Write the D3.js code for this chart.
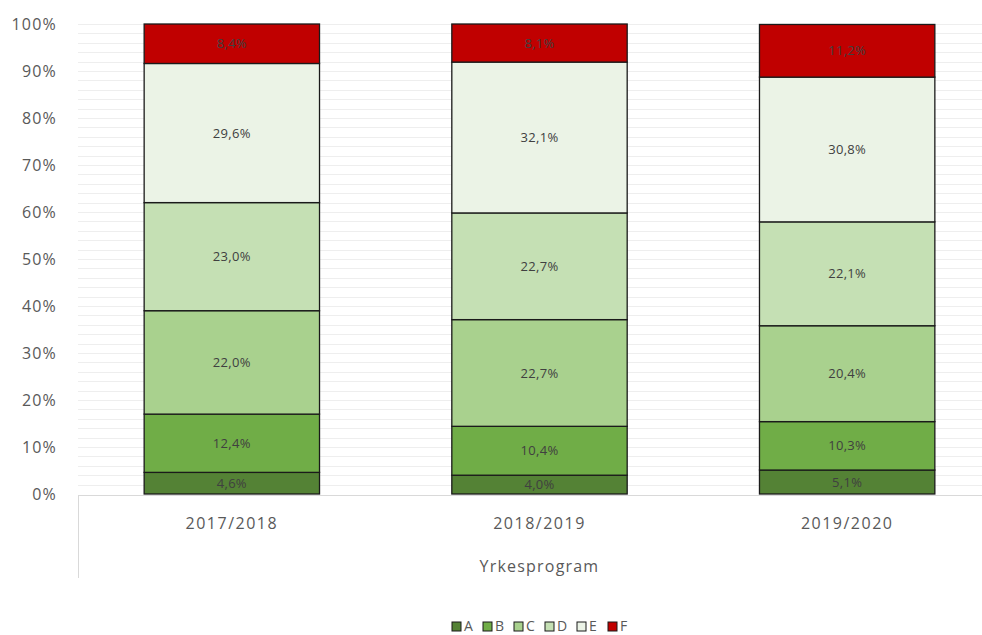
<!DOCTYPE html>
<meta charset="utf-8">
<script src="https://d3js.org/d3.v7.min.js"></script>
<style>
  body { margin: 0; background: #fff; }
  text { font-family: "Open Sans", "Noto Sans", sans-serif; }
</style>
<div id="chart"></div>
<script>

// data
var years = ["2017/2018", "2018/2019", "2019/2020"];
var grades = ["A", "B", "C", "D", "E", "F"];
var valA = [4.6, 4.0, 5.1];
var valB = [12.4, 10.4, 10.3];
var valC = [22.0, 22.7, 20.4];
var valD = [23.0, 22.7, 22.1];
var valE = [29.6, 32.1, 30.8];
var valF = [8.4, 8.1, 11.2];
var yTicks = [0, 10, 20, 30, 40, 50, 60, 70, 80, 90, 100];
var axisTitle = "Yrkesprogram";

var colors = ["#548235", "#70ad47", "#a9d18e", "#c5e0b4", "#ebf3e6", "#c00000"];
var series = [valA, valB, valC, valD, valE, valF];

var W = 982, H = 635;
var svg = d3.select("#chart").append("svg")
  .attr("width", W)
  .attr("height", H);

var x = d3.scaleBand()
  .domain(years)
  .range([78, 1001])
  .paddingInner(0.43)
  .paddingOuter(0.215);

var y = d3.scaleLinear()
  .domain([0, 100])
  .range([494, 24]);

// gridlines (minor every 2%)
svg.append("g")
  .selectAll("line")
  .data(d3.range(2, 101, 2))
  .enter()
  .append("line")
    .attr("x1", 78)
    .attr("x2", W)
    .attr("y1", function(d){ return Math.round(y(d)) + 0.5; })
    .attr("y2", function(d){ return Math.round(y(d)) + 0.5; })
    .attr("stroke", "#eeeeee")
    .attr("stroke-width", 1);

// y axis labels
svg.append("g")
  .selectAll("text")
  .data(yTicks)
  .enter()
  .append("text")
    .attr("x", 57)
    .attr("y", function(d){ return y(d); })
    .attr("dy", "0.35em")
    .attr("text-anchor", "end")
    .attr("font-size", 16)
    .attr("letter-spacing", 1.2)
    .attr("fill", "#595959")
    .text(function(d){ return d + "%"; });

// stack data
var rows = years.map(function(yr, i) {
  var r = {year: yr};
  grades.forEach(function(g, k){ r[g] = series[k][i]; });
  return r;
});
var stacked = d3.stack().keys(grades)(rows);

var layers = svg.append("g")
  .selectAll("g")
  .data(stacked)
  .enter()
  .append("g")
    .attr("fill", function(d, i){ return colors[i]; });

layers.selectAll("rect")
  .data(function(d){ return d; })
  .enter()
  .append("rect")
    .attr("x", function(d){ return x(d.data.year); })
    .attr("width", x.bandwidth())
    .attr("y", function(d){ return y(d[1]); })
    .attr("height", function(d){ return y(d[0]) - y(d[1]); })
    .attr("stroke", "#1a1a1a")
    .attr("stroke-width", 1.3);

layers.selectAll("text")
  .data(function(d){ var key = d.key; return d.map(function(p){ return {p: p, v: p.data[key]}; }); })
  .enter()
  .append("text")
    .attr("x", function(d){ return x(d.p.data.year) + x.bandwidth() / 2; })
    .attr("y", function(d){ return y((d.p[0] + d.p[1]) / 2); })
    .attr("dy", "0.35em")
    .attr("text-anchor", "middle")
    .attr("font-size", 13)
    .attr("letter-spacing", 0.3)
    .attr("fill", "#404040")
    .text(function(d){ return d.v.toFixed(1).replace(".", ",") + "%"; });

// category axis
svg.append("line")
  .attr("x1", 78).attr("x2", W)
  .attr("y1", 495.5).attr("y2", 495.5)
  .attr("stroke", "#d9d9d9");
svg.append("line")
  .attr("x1", 78.5).attr("x2", 78.5)
  .attr("y1", 495).attr("y2", 578)
  .attr("stroke", "#d9d9d9");

svg.append("g")
  .selectAll("text")
  .data(years)
  .enter()
  .append("text")
    .attr("x", function(d){ return x(d) + x.bandwidth() / 2; })
    .attr("y", 523)
    .attr("dy", "0.35em")
    .attr("text-anchor", "middle")
    .attr("font-size", 16)
    .attr("letter-spacing", 1.5)
    .attr("fill", "#595959")
    .text(function(d){ return d; });

svg.append("text")
  .attr("x", (x(years[1]) + x.bandwidth() / 2))
  .attr("y", 566)
  .attr("dy", "0.35em")
  .attr("text-anchor", "middle")
  .attr("font-size", 16)
  .attr("letter-spacing", 1.2)
  .attr("fill", "#595959")
  .text(axisTitle);

// legend
var legendX = [452, 483, 514, 545, 577, 608];
var legend = svg.append("g")
  .selectAll("g")
  .data(grades)
  .enter()
  .append("g")
    .attr("transform", function(d, i){ return "translate(" + legendX[i] + ",622)"; });
legend.append("rect")
  .attr("width", 9).attr("height", 9)
  .attr("fill", function(d, i){ return colors[i]; })
  .attr("stroke", "#1a1a1a")
  .attr("stroke-width", 1);
legend.append("text")
  .attr("x", 12)
  .attr("y", 4.5)
  .attr("dy", "0.35em")
  .attr("font-size", 14)
  .attr("fill", "#595959")
  .text(function(d){ return d; });

</script>
